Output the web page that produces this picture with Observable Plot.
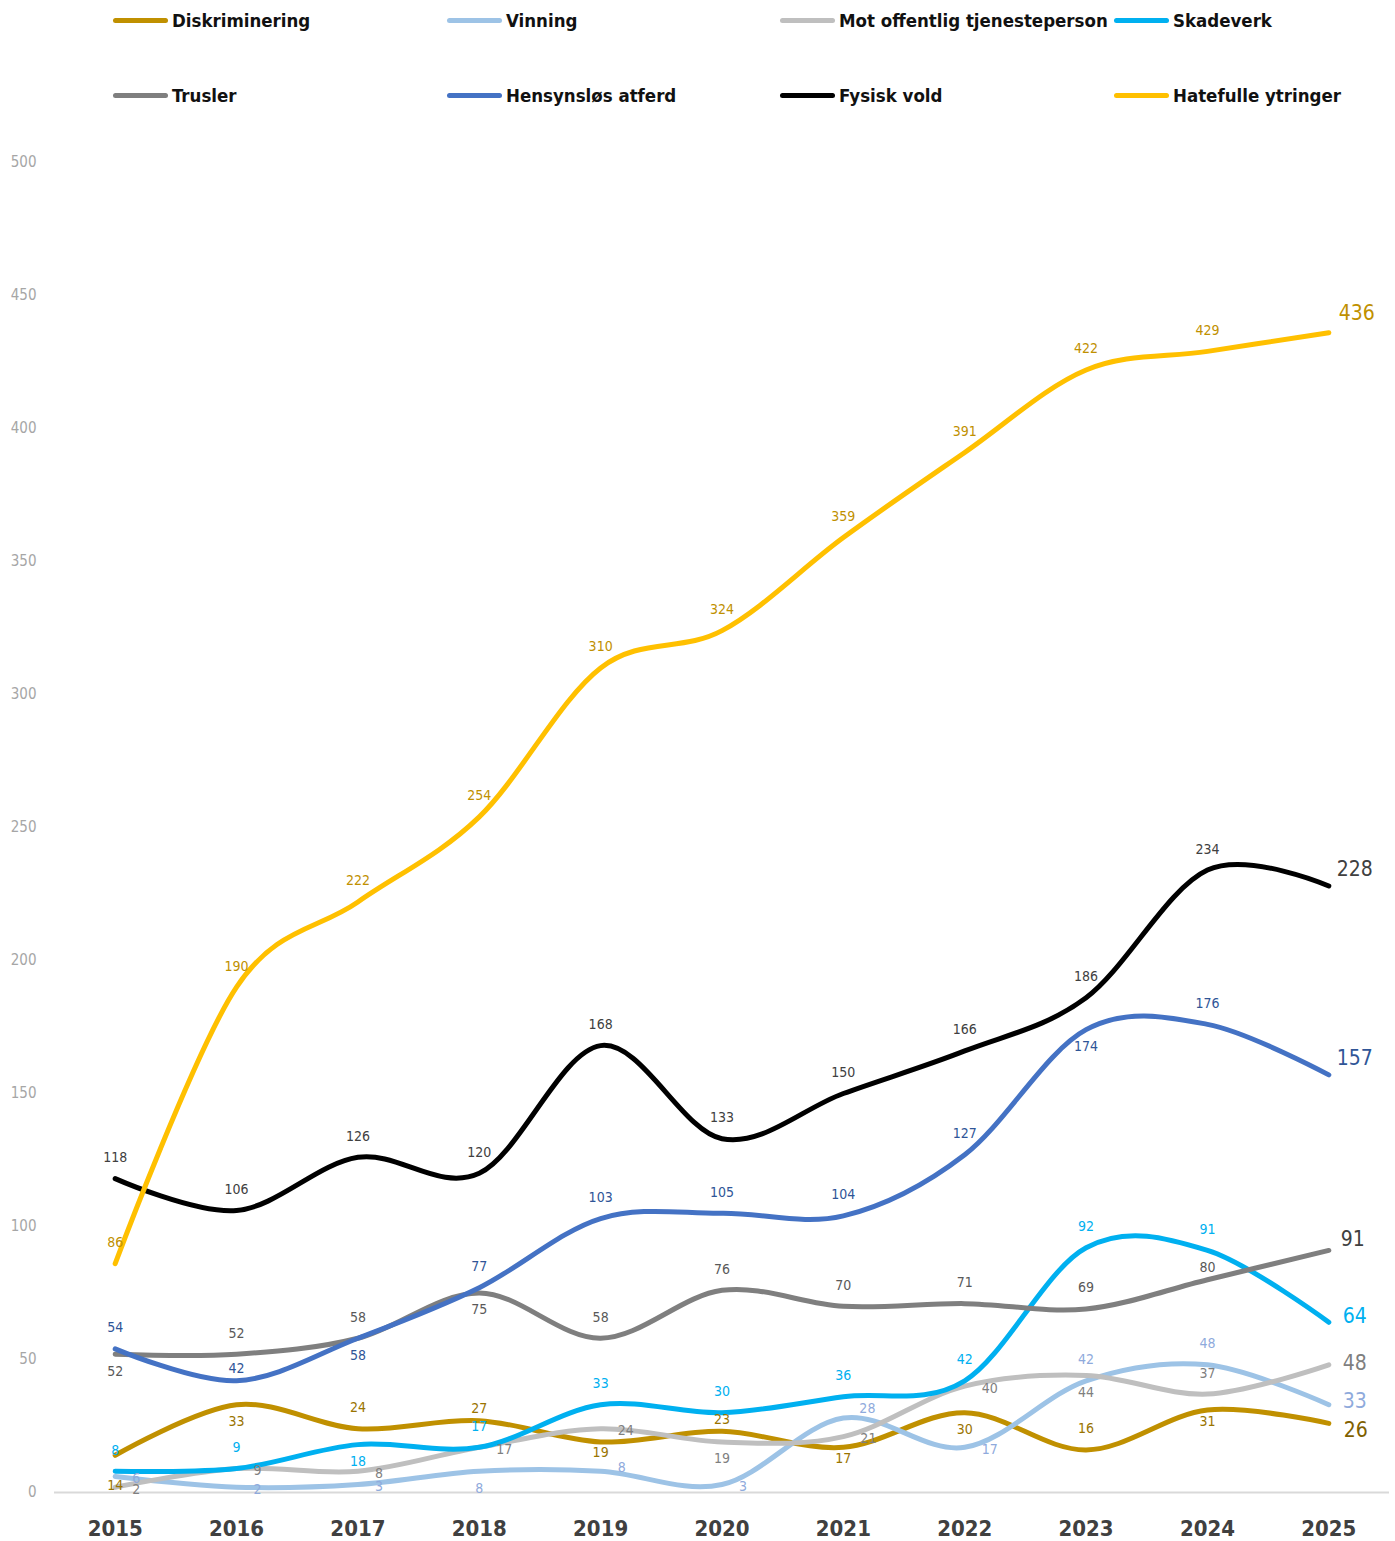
<!DOCTYPE html>
<html>
<head>
<meta charset="utf-8">
<script src="https://cdn.jsdelivr.net/npm/d3@7"></script>
<script src="https://cdn.jsdelivr.net/npm/@observablehq/plot@0.6"></script>
<style>
  body { margin: 0; background: #fff; font-family: 'DejaVu Sans Condensed', 'DejaVu Sans', sans-serif; font-stretch: condensed; }
  #legend { position: relative; width: 1395px; height: 130px; }
  .item { position: absolute; display: flex; align-items: center; font-size: 18.5px; color: #111; font-weight: bold; }
  .sw { width: 55px; height: 5px; border-radius: 3px; margin-right: 4px; }
</style>
</head>
<body>
<div id="legend"></div>
<div id="chart"></div>
<script>
const years = [2015, 2016, 2017, 2018, 2019, 2020, 2021, 2022, 2023, 2024, 2025];

const seriesNames = ["Diskriminering", "Vinning", "Mot offentlig tjenesteperson", "Skadeverk",
                     "Trusler", "Hensynsløs atferd", "Fysisk vold", "Hatefulle ytringer"];

const diskriminering = [14, 33, 24, 27, 19, 23, 17, 30, 16, 31, 26];
const vinning = [6, 2, 3, 8, 8, 3, 28, 17, 42, 48, 33];
const motOffentlig = [2, 9, 8, 17, 24, 19, 21, 40, 44, 37, 48];
const skadeverk = [8, 9, 18, 17, 33, 30, 36, 42, 92, 91, 64];
const trusler = [52, 52, 58, 75, 58, 76, 70, 71, 69, 80, 91];
const hensynslos = [54, 42, 58, 77, 103, 105, 104, 127, 174, 176, 157];
const fysiskVold = [118, 106, 126, 120, 168, 133, 150, 166, 186, 234, 228];
const hatefulle = [86, 190, 222, 254, 310, 324, 359, 391, 422, 429, 436];

const yTicks = [0, 50, 100, 150, 200, 250, 300, 350, 400, 450, 500];

// styling (kept separate from data)
const lineColors = ["#C09000", "#9DC3E6", "#BFBFBF", "#00B0F0", "#7F7F7F", "#4472C4", "#000000", "#FFC000"];
const labelColors = ["#9A7400", "#8FAADC", "#7F7F7F", "#00B0F0", "#595959", "#2F5597", "#404040", "#BF9000"];
const endColors = ["#7F6000", "#8FAADC", "#7F7F7F", "#00B0F0", "#404040", "#2F5597", "#404040", "#BF9000"];
// label placement codes
const placements = [
  ["bb","b","a","a2","b2","a2","b2","b","a","b2","e5"],
  ["r","r","r","b","r4","r","ra","r","a","a","e6"],
  ["r","r","r","r","r","b","r","r","b","a","e0"],
  ["a","a","b","a","a","a","a","a","a","a","e1"],
  ["b","a","a","b","a","a","a","a","a","a2","e2"],
  ["a","a2","b","a","a","a","a","a","b","a","e3"],
  ["a","a","a","a","a","a","a","a","a","a","e3"],
  ["a","a","a","a","a","a","a","a","a","a","e4"]
];
const seriesValues = [diskriminering, vinning, motOffentlig, skadeverk, trusler, hensynslos, fysiskVold, hatefulle];

const rows = [];
seriesNames.forEach((name, si) => {
  seriesValues[si].forEach((v, i) => rows.push({series: si, name, year: years[i], value: v, pos: placements[si][i]}));
});

// legend
const legendOrder = [[0, 1, 2, 3], [4, 5, 6, 7]];
const colX = [113, 447, 780, 1114];
const rowY = [20, 95];
const legend = document.getElementById("legend");
legendOrder.forEach((r, ri) => r.forEach((si, ci) => {
  const d = document.createElement("div");
  d.className = "item";
  d.style.left = colX[ci] + "px";
  d.style.top = (rowY[ri] - 12) + "px";
  d.style.height = "24px";
  d.innerHTML = `<span class="sw" style="background:${lineColors[si]}"></span><span>${seriesNames[si]}</span>`;
  legend.appendChild(d);
}));

const labelFont = 14;
const posOpts = {
  a: {dy: -21},
  a2: {dy: -12},
  b: {dy: 17},
  b2: {dy: 11},
  bb: {dy: 30},
  r: {dx: 17, dy: 2, textAnchor: "start"},
  r4: {dx: 17, dy: -4, textAnchor: "start"},
  ra: {dx: 16, dy: -10, textAnchor: "start"},
  e0: {dx: 14, dy: -2, textAnchor: "start"},
  e1: {dx: 14, dy: -6, textAnchor: "start"},
  e2: {dx: 12, dy: -11, textAnchor: "start"},
  e3: {dx: 8, dy: -17, textAnchor: "start"},
  e4: {dx: 10, dy: -19, textAnchor: "start"},
  e5: {dx: 15, dy: 7, textAnchor: "start"},
  e6: {dx: 14, dy: -3, textAnchor: "start"}
};

const marks = [
  Plot.ruleY([0], {stroke: "#D9D9D9", strokeWidth: 2}),
  Plot.axisX({ticks: years, tickFormat: d => String(d), tickSize: 0, tickPadding: 28,
              fontSize: 22, fontWeight: "bold", fill: "#404040", label: null}),
  Plot.axisY({ticks: yTicks, tickSize: 0, tickPadding: 18, fontSize: 15, fill: "#A6A6A6", label: null})
];
seriesNames.forEach((name, si) => {
  marks.push(Plot.line(rows.filter(d => d.series === si), {
    x: "year", y: "value", stroke: lineColors[si], strokeWidth: 5,
    curve: "cardinal", strokeLinecap: "round", strokeLinejoin: "round"
  }));
});
seriesNames.forEach((name, si) => {
  Object.keys(posOpts).forEach(p => {
    const sub = rows.filter(d => d.series === si && d.pos === p);
    if (!sub.length) return;
    const isEnd = p.startsWith("e");
    marks.push(Plot.text(sub, {
      x: "year", y: "value", text: d => String(d.value),
      fill: isEnd ? endColors[si] : labelColors[si],
      fontSize: isEnd ? 21 : labelFont, fontWeight: 500,
      ...posOpts[p]
    }));
  });
});

const chart = Plot.plot({
  width: 1395,
  height: 1411,
  marginLeft: 54,
  marginRight: 6,
  marginTop: 32,
  marginBottom: 49,
  style: {fontFamily: "'DejaVu Sans Condensed', 'DejaVu Sans', sans-serif", background: "#fff"},
  x: {domain: [2014.5, 2025.5]},
  y: {domain: [0, 500]},
  marks
});
document.getElementById("chart").appendChild(chart);
</script>
</body>
</html>
